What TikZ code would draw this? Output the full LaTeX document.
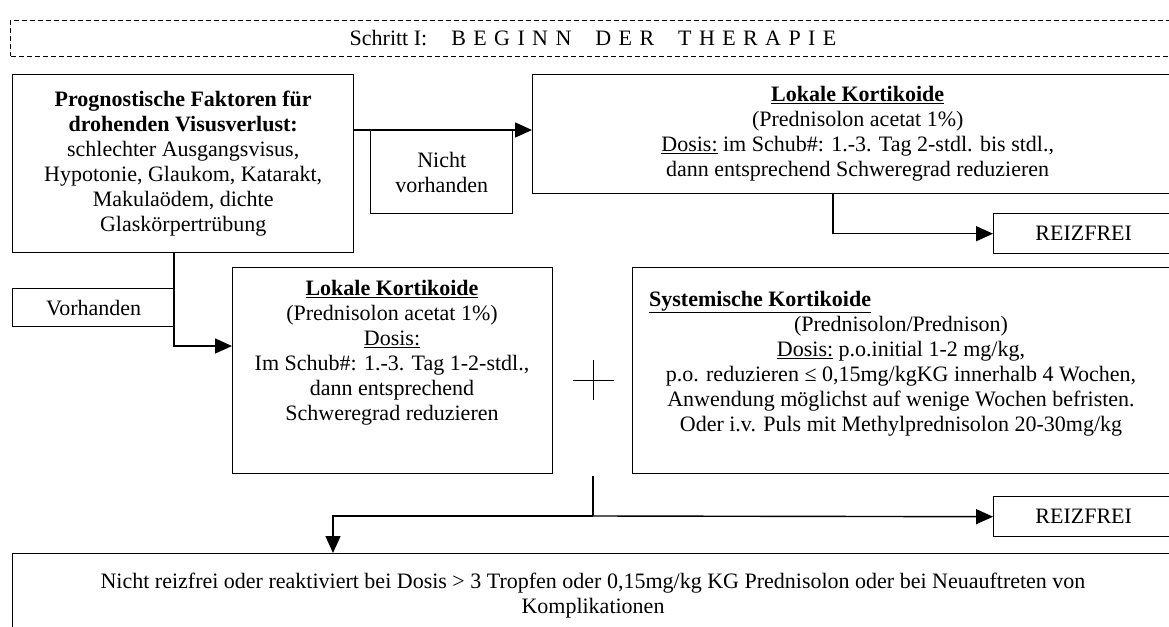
\documentclass[tikz,border=0pt]{standalone}
\usepackage{fontspec}
\setmainfont{Liberation Serif}
\usetikzlibrary{arrows.meta}
\newcommand\ltrgap{\hspace{7.4pt}}
\newcommand\wrdgap{\hspace{24pt}}
\begin{document}
\begin{tikzpicture}[x=1pt,y=-1pt,
  every node/.style={font=\fontsize{22}{25}\selectfont, inner sep=0pt},
  box/.style={draw, line width=1.4pt, rectangle, anchor=north west, align=center},
  arr/.style={line width=1.4pt, -{Triangle[length=17pt,width=15pt]}},
  ln/.style={line width=1.4pt}]
\clip (0,0) rectangle (1169,626);
% header
\node[box, line width=1pt, dash pattern=on 5pt off 3pt, minimum width=1166pt, minimum height=36pt] (H) at (10,20) {};
\node (Htext) at (593,38) {Schritt I:\wrdgap B\ltrgap E\ltrgap G\ltrgap I\ltrgap N\ltrgap N\wrdgap D\ltrgap E\ltrgap R\wrdgap T\ltrgap H\ltrgap E\ltrgap R\ltrgap A\ltrgap P\ltrgap I\ltrgap E};
% boxes
\node[box, minimum width=341pt, minimum height=178pt] (A) at (12,74) {\textbf{Prognostische Faktoren für}\\\textbf{drohenden Visusverlust:}\\schlechter Ausgangsvisus,\\Hypotonie, Glaukom, Katarakt,\\Makulaödem, dichte\\Glaskörpertrübung};
\node[box, minimum width=142pt, minimum height=83pt] (N) at (370,130) {Nicht\\vorhanden};
\node[box, minimum width=650pt, minimum height=119pt] (B) at (532,74) {\underline{\textbf{Lokale Kortikoide}}\\(Prednisolon acetat 1\%)\\\underline{Dosis:} im Schub\#: 1.-3. Tag 2-stdl. bis stdl.,\\dann entsprechend Schweregrad reduzieren};
\node[box, minimum width=180pt, minimum height=40pt] (R1) at (993,213) {REIZFREI};
\node[box, minimum width=162pt, minimum height=38pt] (V) at (12,288) {Vorhanden};
\node[box, minimum width=320pt, minimum height=206pt] (C) at (232,267) {};
\node[align=center] (Ct) at (392,353) {\underline{\textbf{Lokale Kortikoide}}\\(Prednisolon acetat 1\%)\\\underline{Dosis:}\\Im Schub\#: 1.-3. Tag 1-2-stdl.,\\dann entsprechend\\Schweregrad reduzieren};
\node[box, minimum width=540pt, minimum height=206pt] (D) at (632,267) {};
\node[anchor=west] (Dh) at (649,302) {\underline{\textbf{Systemische Kortikoide}}};
\node[align=center] (Dt) at (901,376) {(Prednisolon/Prednison)\\\underline{Dosis:} p.o.initial 1-2 mg/kg,\\p.o. reduzieren ≤ 0,15mg/kgKG innerhalb 4 Wochen,\\Anwendung möglichst auf wenige Wochen befristen.\\Oder i.v. Puls mit Methylprednisolon 20-30mg/kg};
\node[box, minimum width=180pt, minimum height=40pt] (R2) at (993,496) {REIZFREI};
\node[box, minimum width=1160pt, minimum height=100pt] (E) at (12,553) {};
\node[align=center] (Et) at (593,596) {Nicht reizfrei oder reaktiviert bei Dosis > 3 Tropfen oder 0,15mg/kg KG Prednisolon oder bei Neuauftreten von\\Komplikationen};
% plus sign
\draw[line width=1pt] (573,380) -- (614,380) (593,360) -- (593,400);
% connectors
\draw[arr] (A.east |- N.north) -- (B.west |- N.north);
\draw[arr] ([xshift=301pt]B.south west) |- (R1.west);
\draw[arr] ([xshift=162pt]A.south west) |- ([yshift=-79pt]C.north west);
\coordinate (s) at (593,476);
\coordinate (j) at (593,516);
\draw[ln] (s) -- (j);
\draw[arr] (j) -- (R2.west);
\draw[arr] (j) -| ([xshift=321pt]E.north west);
\end{tikzpicture}
\end{document}
